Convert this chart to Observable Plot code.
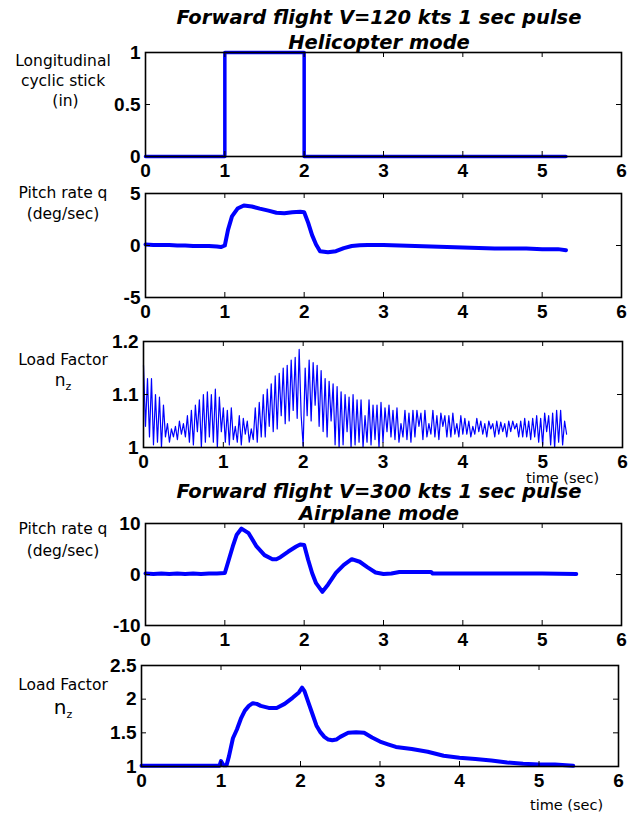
<!DOCTYPE html>
<html><head><meta charset="utf-8">
<script src="https://cdn.jsdelivr.net/npm/d3@7"></script>
<script src="https://cdn.jsdelivr.net/npm/@observablehq/plot@0.6"></script>
<style>
body{margin:0;background:#fff;}
#chart{position:relative;width:637px;height:816px;background:#fff;overflow:hidden;}
.ylab{position:absolute;left:0;width:126px;text-align:center;font-family:"DejaVu Sans",sans-serif;font-size:15.5px;color:#000;white-space:nowrap;}
.ylab sub{font-size:11px;vertical-align:-4px;}
.title{position:absolute;left:0;width:758px;text-align:center;font-family:"DejaVu Sans",sans-serif;font-weight:bold;font-style:italic;font-size:19.5px;color:#000;white-space:nowrap;line-height:24px;}
.xlab{position:absolute;font-family:"DejaVu Sans",sans-serif;font-size:14.5px;color:#000;white-space:nowrap;line-height:17px;}
</style>
</head><body>
<div id="chart">
  <div class="title" style="top:6px;">Forward flight V=120 kts 1 sec pulse</div>
  <div class="title" style="top:31px;">Helicopter mode</div>
  <div class="title" style="top:480px;">Forward flight V=300 kts 1 sec pulse</div>
  <div class="title" style="top:502px;">Airplane mode</div>
  <div class="ylab" style="top:51px;line-height:20px;">Longitudinal<br>cyclic stick<br>&nbsp;(in)</div>
  <div class="ylab" style="top:183px;line-height:21px;">Pitch rate q<br>(deg/sec)</div>
  <div class="ylab" style="top:350px;line-height:20px;">Load Factor<br><span style="font-size:17px">n</span><sub>z</sub></div>
  <div class="ylab" style="top:518px;line-height:22px;">Pitch rate q<br>(deg/sec)</div>
  <div class="ylab" style="top:674px;line-height:22px;">Load Factor<br><span style="font-size:20px">n</span><sub>z</sub></div>
  <div class="xlab" style="left:526px;top:470px;">time (sec)</div>
  <div class="xlab" style="left:530px;top:797px;">time (sec)</div>
</div>
<script>
// ---- shared axis ticks ----
const xTicks = [0, 1, 2, 3, 4, 5, 6];

// ---- Panel 1: longitudinal cyclic stick (in), helicopter mode ----
const stickTime = [0, 1, 1, 2, 2, 5.3];
const stickValue = [0, 0, 1, 1, 0, 0];
const stickTicks = [0, 0.5, 1];

// ---- Panel 2: pitch rate q (deg/sec), helicopter mode ----
const qHeliTime = [0,0.1,0.2,0.3,0.4,0.5,0.6,0.7,0.8,0.9,0.95,1.0,1.04,1.09,1.16,1.24,1.34,1.44,1.55,1.65,1.75,1.85,1.95,2.0,2.05,2.1,2.15,2.2,2.3,2.4,2.5,2.6,2.7,2.8,3.0,3.2,3.4,3.6,3.8,4.0,4.2,4.4,4.6,4.8,5.0,5.2,5.3];
const qHeliValue = [0.1,0.05,0.05,0.05,0.0,0.0,-0.05,-0.05,-0.05,-0.1,-0.15,0.0,1.5,2.8,3.55,3.85,3.75,3.55,3.35,3.15,3.1,3.2,3.25,3.2,2.2,1.0,0.1,-0.55,-0.65,-0.55,-0.25,-0.05,0.03,0.05,0.05,0.0,-0.05,-0.1,-0.15,-0.2,-0.25,-0.3,-0.3,-0.3,-0.35,-0.35,-0.45];
const qHeliTicks = [-5, 0, 5];

// ---- Panel 3: load factor nz, helicopter mode (sampled every 0.025 s) ----
const nzHeliDt = 0.025;
const nzHeliValue = [
1.155,1.04,1.13,1.02, 1.13,1.005,1.10,1.01, 1.095,1.00,1.08,1.02, 1.045,1.01,1.035,1.02,
1.04,1.015,1.05,1.025, 1.045,1.02,1.06,1.01, 1.07,1.005,1.08,1.03, 1.09,1.00,1.10,1.01,
1.105,1.02,1.10,1.01, 1.11,1.00,1.095,1.03, 1.075,1.01,1.07,1.005, 1.075,1.015,1.04,1.01,
1.06,1.005,1.055,1.025, 1.05,1.01,1.035,1.015, 1.075,1.01,1.085,1.02, 1.10,1.02,1.11,1.04,
1.12,1.03,1.135,1.035, 1.14,1.06,1.15,1.045, 1.155,1.05,1.165,1.07, 1.17,1.055,1.185,1.06,
1.003,1.15,1.06,1.165, 1.05,1.16,1.08,1.155, 1.04,1.145,1.03,1.13, 1.02,1.125,1.05,1.12,
1.005,1.115,1.0,1.105, 1.005,1.10,1.03,1.095, 1.0,1.10,1.005,1.09, 1.01,1.09,1.0,1.06,
1.01,1.09,1.005,1.08, 1.015,1.08,1.0,1.085, 1.01,1.075,1.03,1.08, 1.02,1.07,1.015,1.075,
1.01,1.045,1.02,1.07, 1.015,1.065,1.01,1.07, 1.02,1.07,1.04,1.065, 1.015,1.07,1.02,1.045,
1.025,1.07,1.02,1.06, 1.015,1.065,1.04,1.06, 1.02,1.06,1.02,1.065, 1.025,1.045,1.02,1.06,
1.025,1.055,1.025,1.05, 1.02,1.04,1.025,1.055, 1.03,1.05,1.025,1.045, 1.02,1.05,1.035,1.045,
1.02,1.05,1.025,1.048, 1.03,1.045,1.02,1.05, 1.03,1.05,1.035,1.045, 1.02,1.05,1.02,1.055,
1.02,1.05,1.015,1.055, 1.02,1.06,1.01,1.055, 1.005,1.065,1.03,1.06, 1.005,1.065,1.0,1.07,
1.01,1.07,1.005,1.05, 1.025
];
const nzHeliTicks = [1, 1.1, 1.2];

// ---- Panel 4: pitch rate q (deg/sec), airplane mode ----
const qAirTime = [0,0.1,0.2,0.3,0.4,0.5,0.6,0.7,0.8,0.9,1.0,1.05,1.1,1.15,1.21,1.3,1.4,1.5,1.6,1.65,1.7,1.8,1.9,1.95,2.0,2.05,2.1,2.15,2.23,2.3,2.4,2.5,2.6,2.7,2.8,2.9,3.0,3.1,3.2,3.4,3.6,3.62,4.0,4.5,5.0,5.43];
const qAirValue = [0.2,0.1,0.2,0.1,0.2,0.1,0.2,0.1,0.2,0.2,0.3,2.9,5.5,7.8,9.0,8.1,5.5,3.8,3.0,3.0,3.4,4.5,5.5,5.9,5.8,2.9,0.3,-1.7,-3.4,-2.0,0.3,1.9,3.0,2.5,1.4,0.4,0.1,0.2,0.5,0.5,0.5,0.2,0.2,0.2,0.2,0.1];
const qAirTicks = [-10, 0, 10];

// ---- Panel 5: load factor nz, airplane mode ----
const nzAirTime = [0,0.2,0.4,0.6,0.8,0.98,1.0,1.03,1.07,1.1,1.15,1.2,1.25,1.3,1.35,1.4,1.45,1.5,1.6,1.7,1.8,1.9,1.98,2.02,2.05,2.1,2.15,2.2,2.25,2.3,2.35,2.4,2.45,2.5,2.6,2.7,2.8,2.9,3.0,3.1,3.2,3.4,3.6,3.8,4.0,4.2,4.4,4.6,4.8,5.0,5.2,5.43];
const nzAirValue = [1.01,1.01,1.01,1.01,1.01,1.01,1.08,1.02,1.02,1.15,1.42,1.55,1.71,1.83,1.9,1.94,1.93,1.9,1.87,1.87,1.93,2.02,2.1,2.17,2.12,1.95,1.78,1.61,1.51,1.44,1.40,1.39,1.40,1.44,1.5,1.51,1.5,1.43,1.37,1.33,1.29,1.26,1.22,1.16,1.13,1.11,1.09,1.06,1.04,1.03,1.03,1.01];
const nzAirTicks = [1, 1.5, 2, 2.5];

const chart = document.getElementById("chart");

function panel(opt) {
  const W = 637, mt = 10, mb = 36;
  const h = opt.b - opt.t;
  const fw = opt.r - opt.l;
  const data = opt.x.map((x, i) => ({x, y: opt.y[i]}));
  const svg = Plot.plot({
    width: W, height: h + mt + mb,
    marginLeft: opt.l, marginRight: W - opt.r, marginTop: mt, marginBottom: mb,
    style: {background: "transparent", overflow: "visible", color: "black",
            fontFamily: "'Liberation Sans', Arial, sans-serif", fontSize: "19px", fontWeight: "bold"},
    x: {domain: [0, 6], ticks: xTicks, tickSize: 0, tickPadding: 7, tickFormat: d => String(d), label: null},
    y: {domain: opt.domain, ticks: opt.ticks, tickSize: 0, tickPadding: 5, tickFormat: d => String(d), label: null},
    marks: [
      Plot.line(data, {x: "x", y: "y", stroke: "#0000ff", strokeWidth: opt.sw, strokeLinejoin: "round", strokeLinecap: "round"}),
      Plot.tickX(xTicks, {x: d => d, insetTop: h - 5, stroke: "black", strokeWidth: 1}),
      Plot.tickX(xTicks, {x: d => d, insetBottom: h - 5, stroke: "black", strokeWidth: 1}),
      Plot.tickY(opt.ticks, {y: d => d, insetRight: fw - 5, stroke: "black", strokeWidth: 1}),
      Plot.tickY(opt.ticks, {y: d => d, insetLeft: fw - 5, stroke: "black", strokeWidth: 1}),
      Plot.frame({stroke: "black", strokeWidth: 1.6})
    ]
  });
  svg.style.position = "absolute";
  svg.style.left = "0px";
  svg.style.top = (opt.t - mt) + "px";
  chart.appendChild(svg);
}

panel({x: stickTime, y: stickValue, domain: [0, 1], ticks: stickTicks, l: 145, r: 621, t: 52, b: 156, sw: 3.5});
panel({x: qHeliTime, y: qHeliValue, domain: [-5, 5], ticks: qHeliTicks, l: 145, r: 621, t: 193, b: 297, sw: 4});
panel({x: nzHeliValue.map((v, i) => i * nzHeliDt), y: nzHeliValue, domain: [1, 1.2], ticks: nzHeliTicks, l: 143, r: 622, t: 341, b: 447, sw: 1.2});
panel({x: qAirTime, y: qAirValue, domain: [-10, 10], ticks: qAirTicks, l: 145, r: 621, t: 523, b: 625, sw: 4});
panel({x: nzAirTime, y: nzAirValue, domain: [1, 2.5], ticks: nzAirTicks, l: 141, r: 618, t: 665, b: 766, sw: 4});
</script>
</body></html>
